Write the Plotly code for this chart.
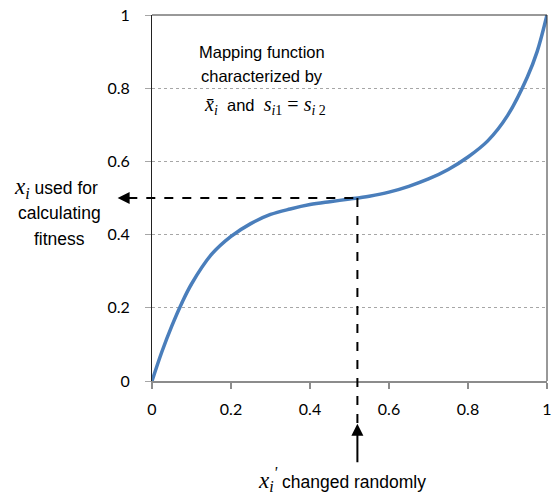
import plotly.graph_objects as go

# Mapping function values
x_vals = [0, 0.025, 0.05, 0.075, 0.1, 0.15, 0.2, 0.25, 0.3, 0.35, 0.4, 0.45, 0.5, 0.55, 0.6, 0.65, 0.7, 0.75, 0.8, 0.85, 0.9, 0.95, 0.975, 1.0]
y_vals = [0, 0.08, 0.15, 0.212, 0.265, 0.345, 0.395, 0.43, 0.455, 0.47, 0.482, 0.49, 0.497, 0.505, 0.516, 0.532, 0.552, 0.578, 0.612, 0.656, 0.725, 0.83, 0.9, 1.0]

tick_vals = [0, 0.2, 0.4, 0.6, 0.8, 1]
tick_text = ["0", "0.2", "0.4", "0.6", "0.8", "1"]

x_sel = 0.52   # x_i' changed randomly
y_sel = 0.5    # x_i used for fitness

TXT = "Liberation Sans"

fig = go.Figure()
fig.add_trace(go.Scatter(x=x_vals, y=y_vals, mode="lines",
                         line=dict(color="#4A7EBB", width=3.5, shape="spline", smoothing=1.0),
                         showlegend=False, hoverinfo="skip"))

fig.update_layout(
    width=552, height=497,
    margin=dict(l=152, r=5, t=15, b=116, autoexpand=False),
    paper_bgcolor="white", plot_bgcolor="white",
    font=dict(family="Lato", size=16, color="black"),
    xaxis=dict(range=[0, 1], tickvals=tick_vals, ticktext=tick_text,
               showgrid=False, zeroline=False, showline=True, linecolor="#8C8C8C", linewidth=2,
               ticks="outside", ticklen=6, tickcolor="#8C8C8C", tickwidth=1.5,
               ticklabelstandoff=7,
               tickfont=dict(family="Lato", size=16, color="black")),
    yaxis=dict(range=[0, 1], tickvals=tick_vals, ticktext=tick_text,
               showgrid=True, gridcolor="#A6A6A6", griddash="dot", gridwidth=1,
               zeroline=False, showline=True, linecolor="#222222", linewidth=1,
               ticks="outside", ticklen=6, tickcolor="#A6A6A6",
               ticklabelstandoff=12,
               tickfont=dict(family="Lato", size=16, color="black")),
)

shapes = [
    # top and right frame
    dict(type="line", xref="paper", yref="paper", x0=0, x1=1, y0=1, y1=1, line=dict(color="#333333", width=1)),
    dict(type="line", xref="paper", yref="paper", x0=1, x1=1, y0=0, y1=1, line=dict(color="#333333", width=1)),
    # horizontal dashed guide
    dict(type="line", xref="paper", yref="y", x0=-0.06, x1=x_sel, y0=y_sel, y1=y_sel,
         line=dict(color="black", width=2, dash="dash")),
    # vertical dashed guide
    dict(type="line", xref="x", yref="paper", x0=x_sel, x1=x_sel, y0=y_sel, y1=-0.117,
         line=dict(color="black", width=2, dash="dash")),
]
fig.update_layout(shapes=shapes)

annotations = [
    # left arrowhead
    dict(xref="paper", yref="y", x=-0.087, y=y_sel, ax=14, ay=0, showarrow=True,
         arrowhead=2, arrowsize=1.2, arrowwidth=2, arrowcolor="black", text=""),
    # bottom arrow
    dict(xref="x", yref="paper", x=x_sel, y=-0.117, ax=0, ay=40, showarrow=True,
         arrowhead=2, arrowsize=1.2, arrowwidth=2, arrowcolor="black", text=""),
    # left text
    dict(xref="paper", yref="paper", x=-0.243, y=0.527, xanchor="center", yanchor="middle", showarrow=False,
         text="<span style='font-family:Liberation Serif;font-size:23px'><i>x<sub>i</sub></i></span> used for",
         font=dict(family=TXT, size=17.5)),
    dict(xref="paper", yref="paper", x=-0.235, y=0.46, xanchor="center", yanchor="middle", showarrow=False,
         text="calculating", font=dict(family=TXT, size=17.5)),
    dict(xref="paper", yref="paper", x=-0.235, y=0.388, xanchor="center", yanchor="middle", showarrow=False,
         text="fitness", font=dict(family=TXT, size=17.5)),
    # bottom text
    dict(xref="paper", yref="paper", x=0.48, y=-0.27, xanchor="center", yanchor="middle", showarrow=False,
         text="<span style='font-family:Liberation Serif;font-size:23px'><i>x<sub>i</sub><sup>'</sup></i></span> changed randomly",
         font=dict(family=TXT, size=17.5)),
    # inner text
    dict(xref="paper", yref="paper", x=0.278, y=0.899, xanchor="center", yanchor="middle", showarrow=False,
         text="Mapping function", font=dict(family=TXT, size=16.5)),
    dict(xref="paper", yref="paper", x=0.278, y=0.833, xanchor="center", yanchor="middle", showarrow=False,
         text="characterized by", font=dict(family=TXT, size=16.5)),
    dict(xref="paper", yref="paper", x=0.285, y=0.752, xanchor="center", yanchor="middle", showarrow=False,
         text="<span style='font-family:Liberation Serif;font-size:20px'><i>x̄<sub>i</sub></i></span>  and  "
              "<span style='font-family:Liberation Serif;font-size:20px'><i>s</i><sub><i>i</i>1</sub> = <i>s</i><sub><i>i</i> 2</sub></span>",
         font=dict(family=TXT, size=16.5)),
]
fig.update_layout(annotations=annotations)

fig.write_html("out.html", config={"displayModeBar": False},
               post_script="document.body.style.margin='0';document.body.style.overflow='hidden';")
